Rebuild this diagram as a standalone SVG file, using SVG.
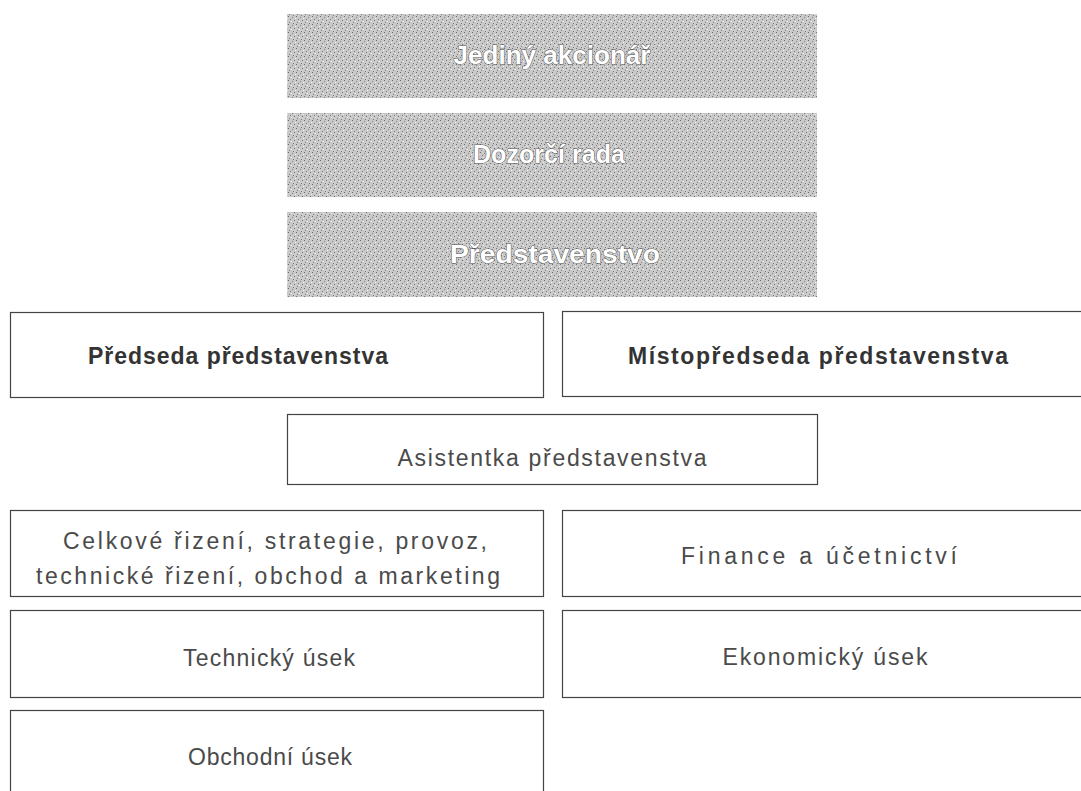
<svg xmlns="http://www.w3.org/2000/svg" width="1081" height="791" viewBox="0 0 1081 791">
<defs>
<pattern id="dither" width="8" height="8" patternUnits="userSpaceOnUse">
<rect width="8" height="8" fill="#c9c9c9"/>
<rect x="0" y="0" width="1" height="1" fill="#6f6f6f"/>
<rect x="4" y="1" width="1" height="1" fill="#7f7f7f"/>
<rect x="2" y="3" width="1" height="1" fill="#777777"/>
<rect x="6" y="4" width="1" height="1" fill="#6f6f6f"/>
<rect x="1" y="6" width="1" height="1" fill="#858585"/>
<rect x="5" y="7" width="1" height="1" fill="#7a7a7a"/>
<rect x="7" y="2" width="1" height="1" fill="#ececec"/>
<rect x="3" y="5" width="1" height="1" fill="#ececec"/>
<rect x="6" y="6" width="1" height="1" fill="#e4e4e4"/>
</pattern>
</defs>
<style>
.grey{fill:url(#dither);stroke:none}
.gt{font-family:"Liberation Sans",Arial,sans-serif;font-weight:bold;font-size:25px;fill:#ffffff;stroke:#5a5a5a;stroke-width:1;paint-order:stroke;text-anchor:middle}
.box{fill:#ffffff;stroke:#444444;stroke-width:1.2}
.bt{font-family:"Liberation Sans",Arial,sans-serif;font-size:23px;fill:#333333;text-anchor:middle;font-weight:bold}
.rt{font-family:"Liberation Sans",Arial,sans-serif;font-size:23px;fill:#4a4a4a;text-anchor:middle}
</style>
<rect width="1081" height="791" fill="#ffffff"/>
<g id="jediny-akcionar">
<rect class="grey" x="287" y="14" width="530" height="84"/>
<text class="gt" x="552" y="64" textLength="197" lengthAdjust="spacingAndGlyphs">Jediný akcionář</text>
</g>
<g id="dozorci-rada">
<rect class="grey" x="287" y="113" width="530" height="84"/>
<text class="gt" x="549" y="163" textLength="152" lengthAdjust="spacingAndGlyphs">Dozorčí rada</text>
</g>
<g id="predstavenstvo">
<rect class="grey" x="287" y="212" width="530" height="85"/>
<text class="gt" x="555" y="263" textLength="210" lengthAdjust="spacingAndGlyphs">Představenstvo</text>
</g>
<g id="predseda">
<rect class="box" x="10.5" y="312.5" width="533" height="85"/>
<text class="bt" x="238" y="364" textLength="300" lengthAdjust="spacing">Předseda představenstva</text>
</g>
<g id="mistopredseda">
<rect class="box" x="562.5" y="311.5" width="530" height="85"/>
<text class="bt" x="818" y="364" textLength="380" lengthAdjust="spacing">Místopředseda představenstva</text>
</g>
<g id="asistentka">
<rect class="box" x="287.5" y="414.5" width="530" height="70"/>
<text class="rt" x="552" y="466" textLength="309" lengthAdjust="spacing">Asistentka představenstva</text>
</g>
<g id="celkove-rizeni">
<rect class="box" x="10.5" y="510.5" width="533" height="86"/>
<text class="rt" x="275" y="549" font-size="24" textLength="424" lengthAdjust="spacing">Celkové řizení, strategie, provoz,</text>
<text class="rt" x="268" y="584" font-size="24" textLength="464" lengthAdjust="spacing">technické řizení, obchod a marketing</text>
</g>
<g id="finance">
<rect class="box" x="562.5" y="510.5" width="530" height="86"/>
<text class="rt" x="819" y="564" textLength="276" lengthAdjust="spacing">Finance a účetnictví</text>
</g>
<g id="technicky-usek">
<rect class="box" x="10.5" y="610.5" width="533" height="87"/>
<text class="rt" x="269" y="666" textLength="172" lengthAdjust="spacing">Technický úsek</text>
</g>
<g id="ekonomicky-usek">
<rect class="box" x="562.5" y="610.5" width="530" height="87"/>
<text class="rt" x="825" y="665" textLength="205" lengthAdjust="spacing">Ekonomický úsek</text>
</g>
<g id="obchodni-usek">
<rect class="box" x="10.5" y="710.5" width="533" height="90"/>
<text class="rt" x="270" y="765" textLength="164" lengthAdjust="spacing">Obchodní úsek</text>
</g>
</svg>
